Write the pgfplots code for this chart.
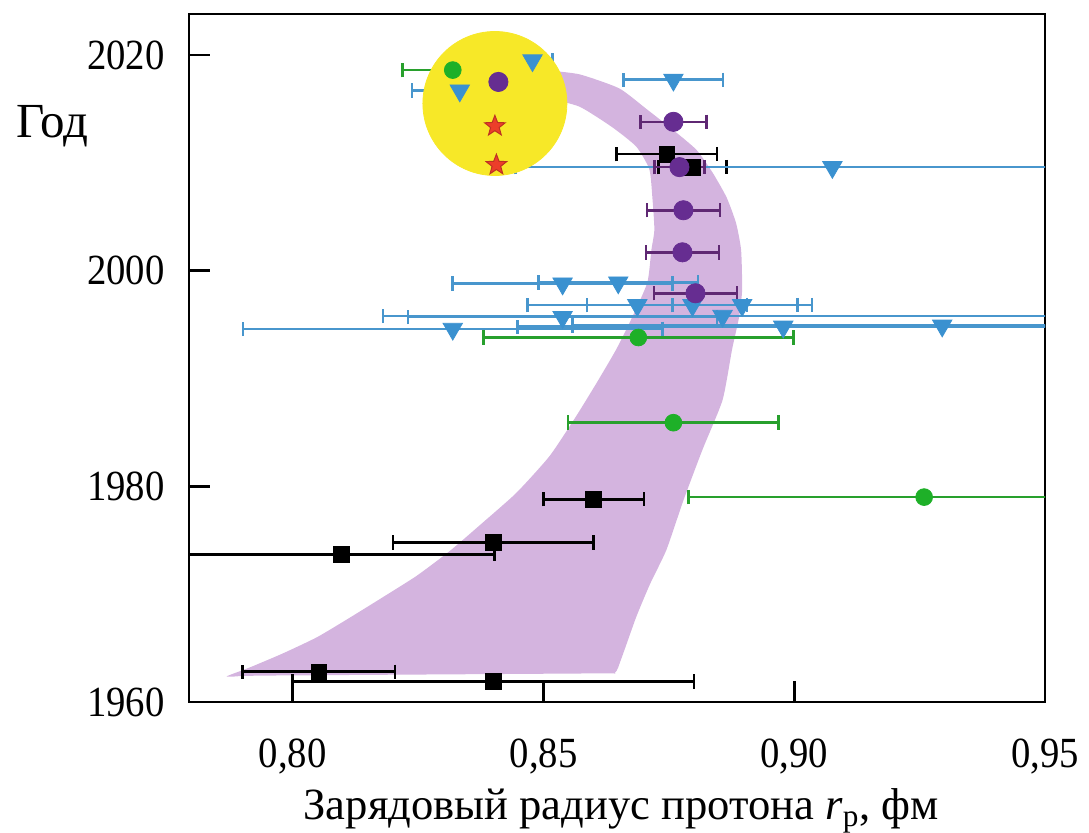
\documentclass[border=0pt]{standalone}
\usepackage{fontspec}
\setmainfont{Liberation Serif}[FakeStretch=0.9]
\newfontfamily\wideserif{Liberation Serif}
\usepackage{pgfplots}
\pgfplotsset{compat=1.18}

\definecolor{cblue}{RGB}{58,145,208}
\definecolor{cbluebar}{RGB}{72,150,205}
\definecolor{cgreen}{RGB}{30,176,40}
\definecolor{cgreenbar}{RGB}{40,160,45}
\definecolor{cpurple}{RGB}{102,45,145}
\definecolor{cpurplebar}{RGB}{95,40,115}
\definecolor{cband}{RGB}{212,180,223}
\definecolor{cyellow}{RGB}{247,232,40}
\definecolor{cred}{RGB}{236,62,42}

\newcommand{\fsz}{\fontsize{21.5}{25}\selectfont}

% filled five-pointed star
\pgfdeclareplotmark{fstar}{%
  \pgfpathmoveto{\pgfpointpolar{90}{\pgfplotmarksize}}%
  \pgfpathlineto{\pgfpointpolar{126}{0.42*\pgfplotmarksize}}%
  \pgfpathlineto{\pgfpointpolar{162}{\pgfplotmarksize}}%
  \pgfpathlineto{\pgfpointpolar{198}{0.42*\pgfplotmarksize}}%
  \pgfpathlineto{\pgfpointpolar{234}{\pgfplotmarksize}}%
  \pgfpathlineto{\pgfpointpolar{270}{0.42*\pgfplotmarksize}}%
  \pgfpathlineto{\pgfpointpolar{306}{\pgfplotmarksize}}%
  \pgfpathlineto{\pgfpointpolar{342}{0.42*\pgfplotmarksize}}%
  \pgfpathlineto{\pgfpointpolar{18}{\pgfplotmarksize}}%
  \pgfpathlineto{\pgfpointpolar{54}{0.42*\pgfplotmarksize}}%
  \pgfpathclose
  \pgfusepathqfillstroke
}

\pgfplotsset{
  xerr/.style={error bars/.cd, x dir=both, x explicit,
    error bar style={line width=1.3pt, #1},
    error mark options={rotate=90, line width=1.3pt, mark size=3.6pt, #1}},
}

\begin{document}
\begin{tikzpicture}
\begin{axis}[
  at={(0,0)}, anchor=south west,
  scale only axis, width=428pt, height=344pt,
  xmin=0.7793, xmax=0.95, ymin=1960, ymax=2023.8,
  axis line style={line width=1.3pt},
  tick align=inside, tick pos=left,
  major tick length=10.5pt,
  tick style={line width=1.3pt, black},
  xtick={0.80,0.85,0.90,0.95},
  ytick={1960,1980,2000,2020},
  scaled ticks=false,
  tick label style={font=\fsz},
  xticklabel style={anchor=base, inner sep=0pt, yshift=-33pt,
    /pgf/number format/fixed, /pgf/number format/fixed zerofill,
    /pgf/number format/precision=2, /pgf/number format/use comma},
  yticklabel style={anchor=east, inner sep=0pt, xshift=-12pt,
    /pgf/number format/set thousands separator={}},
  /pgf/number format/assume math mode=true,
  xlabel={Зарядовый радиус протона \textit{r}\textsubscript{p}, фм},
  xlabel style={font=\wideserif\fontsize{22.3}{26}\selectfont,
    at={(axis description cs:0.505,-0.1715)}, anchor=base},
  ylabel={Год},
  ylabel style={font=\wideserif\fontsize{24.5}{28}\selectfont, rotate=-90,
    at={(axis description cs:-0.21,0.82)}, anchor=base west},
]

% highlighted region
\addplot[only marks, mark=*, mark size=36pt, mark options={fill=cyellow, draw=cyellow}]
  coordinates {(0.8403,2015.5)};

% shaded trend band
\addplot[fill=cband, draw=none, smooth, tension=0.35] coordinates {
  (0.8432,2018.9) (0.8502,2018.6) (0.8572,2018.2) (0.8651,2016.9) (0.8705,2015.0)
  (0.8757,2013.1) (0.8805,2011.2) (0.8837,2009.1) (0.8865,2006.8) (0.8884,2004.4)
  (0.8894,2001.9) (0.8896,1998.2) (0.8890,1995.7) (0.8876,1992.7) (0.8857,1988.0)
  (0.8817,1983.4) (0.8779,1978.7) (0.8745,1974.1) (0.8713,1971.0) (0.8685,1967.9)
  (0.8655,1964.0) (0.8642,1962.7) (0.8600,1962.65)
  (0.7950,1962.45) (0.7880,1962.35) (0.7869,1962.4)
  (0.7914,1963.2) (0.7980,1964.5) (0.8048,1966.0) (0.8113,1967.8) (0.8179,1969.7)
  (0.8247,1971.7) (0.8313,1974.0) (0.8378,1976.6) (0.8446,1979.4) (0.8512,1982.8)
  (0.8565,1986.5) (0.8606,1989.6) (0.8645,1992.7) (0.8677,1995.7) (0.8707,1998.9)
  (0.8715,2001.9) (0.8721,2003.8) (0.8717,2006.8) (0.8711,2009.4) (0.8685,2011.5)
  (0.8637,2013.3) (0.8572,2015.2) (0.8506,2016.0) (0.8440,2016.4) (0.8432,2017.5)
};

% black squares
\addplot[only marks, mark=square*, mark size=3.9pt, mark options={fill=black, draw=black}, xerr=black]
  coordinates {
  (0.8400,1961.9) +- (0.0400,0)
  (0.8052,1962.8) +- (0.0152,0)
  (0.8097,1973.7) +- (0.0305,0)
  (0.8400,1974.8) +- (0.0200,0)
  (0.8600,1978.8) +- (0.0100,0)
  (0.8746,2010.8) +- (0.0100,0)
  (0.8797,2009.6) +- (0.0068,0)
};

% blue triangles
\addplot[only marks, mark=triangle*, mark size=5.6pt,
  mark options={rotate=180, fill=cblue, draw=cblue}, xerr=cbluebar]
  coordinates {
  (0.8478,2019.5) +- (0.0040,0)
  (0.8333,2016.7) +- (0.0095,0)
  (0.8759,2017.7) +- (0.0099,0)
  (0.9076,2009.6) +- (0.0632,0)
  (0.8538,1998.8) +- (0.0219,0)
  (0.8649,1998.9) +- (0.0159,0)
  (0.8687,1996.8) +- (0.0219,0)
  (0.8797,1996.8) +- (0.0210,0)
  (0.8896,1996.8) +- (0.0139,0)
  (0.8538,1995.7) +- (0.0308,0)
  (0.8857,1995.8) +- (0.0677,0)
  (0.8319,1994.6) +- (0.0418,0)
  (0.8978,1994.8) +- (0.0530,0)
  (0.9295,1994.9) +- (0.0737,0)
};

% green circles
\addplot[only marks, mark=*, mark size=4.2pt, mark options={fill=cgreen, draw=cgreen}, xerr=cgreenbar]
  coordinates {
  (0.8319,2018.6) +- (0.0100,0)
  (0.8689,1993.8) +- (0.0309,0)
  (0.8759,1985.9) +- (0.0210,0)
  (0.9259,1979.0) +- (0.0470,0)
};

% purple circles
\addplot[only marks, mark=*, mark size=4.8pt, mark options={fill=cpurple, draw=cpurple}, xerr=cpurplebar]
  coordinates {
  (0.8410,2017.5) +- (0.0020,0)
  (0.8759,2013.8) +- (0.0066,0)
  (0.8771,2009.6) +- (0.0050,0)
  (0.8779,2005.6) +- (0.0073,0)
  (0.8777,2001.7) +- (0.0073,0)
  (0.8803,1997.9) +- (0.0083,0)
};

% red stars
\addplot[only marks, mark=fstar, mark size=5.4pt, mark options={fill=cred, draw=cred!80!black, line width=0.5pt}]
  coordinates {(0.8403,2013.4) (0.8406,2009.8)};

\end{axis}
\pgfresetboundingbox
\path (-94.5pt,-65.5pt) rectangle (450pt,351pt);
\end{tikzpicture}
\end{document}
